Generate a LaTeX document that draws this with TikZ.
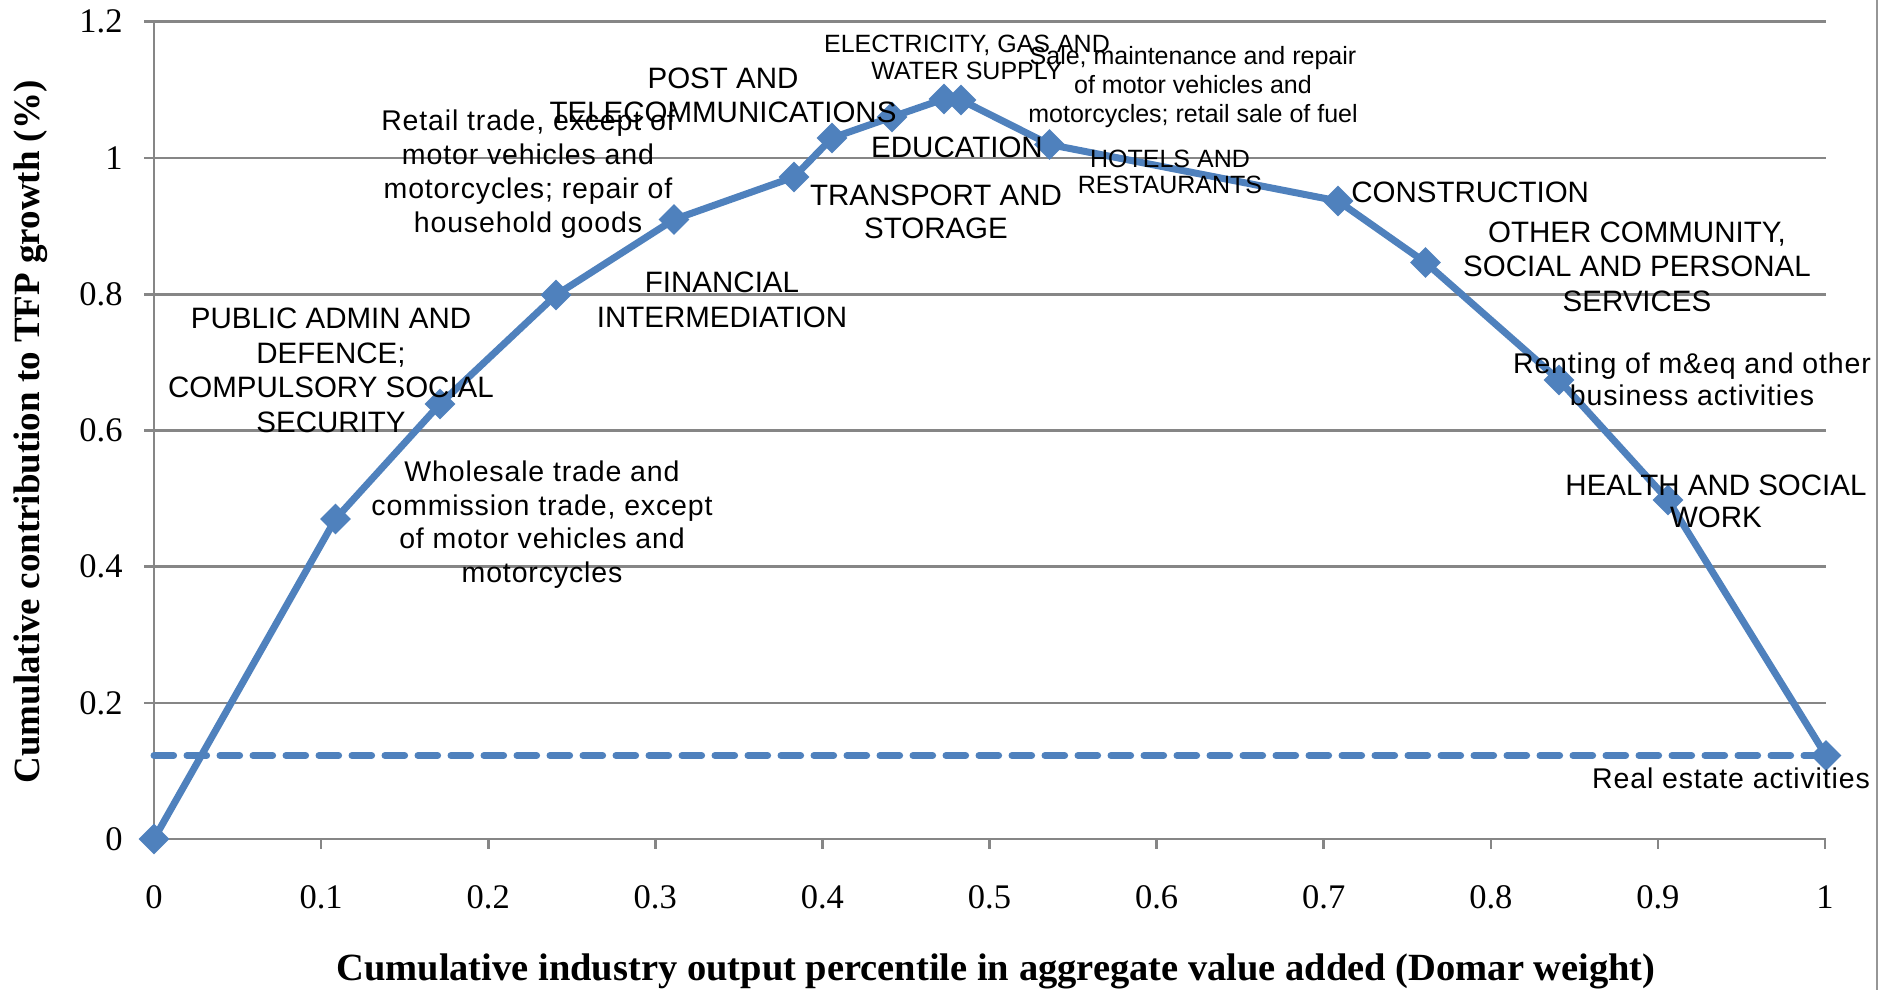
\documentclass[tikz,border=0pt]{standalone}
\usepackage{fontspec}
\setmainfont{Liberation Serif}
\newfontfamily\labfont{Liberation Sans}
\newfontfamily\labspfont[LetterSpace=3]{Liberation Sans}
\usetikzlibrary{shapes.geometric}
\definecolor{xblue}{RGB}{79,129,189}
\definecolor{gridgray}{RGB}{134,134,134}
\definecolor{bordergray}{RGB}{150,150,150}
\newcommand\fs[2]{\fontsize{#1}{#2}\selectfont}
\newcommand\ft{\rule{0pt}{12pt}}
\begin{document}
\begin{tikzpicture}[x=0.5pt,y=-0.5pt,
  gridl/.style={draw=gridgray,line width=1.3pt},
  series/.style={draw=xblue,line width=3.5pt,line join=round,line cap=round},
  refline/.style={draw=xblue,line width=3.5pt,line cap=round,dash pattern=on 9.8pt off 6.7pt},
  mk/.style={diamond,fill=xblue,inner sep=0pt,minimum width=15.5pt,minimum height=15.5pt},
  lab/.style={inner sep=0pt,align=center,anchor=north,text=black},
  tickl/.style={inner sep=0pt,font=\fs{17.25}{20}},
  ]
\fill[white] (0,0) rectangle (1892,990);
\useasboundingbox (0,0) rectangle (1892,990);
% grid
\foreach \k in {1,...,6}
  \draw[gridl] (144,{839-136.2*\k}) -- (1826,{839-136.2*\k});
\draw[gridl] (154,21.8) -- (154,839);
\draw[gridl] (144,839) -- (1826,839);
\foreach \k in {0,...,10}
  \draw[gridl] ({154+167.1*\k},839) -- ++(0,10);
\draw[draw=bordergray,line width=1.3pt] (1877,0) -- (1877,990);
% tick labels
\foreach \k/\t in {0/0,1/0.2,2/0.4,3/0.6,4/0.8,5/1,6/1.2}
  \node[tickl,anchor=east] (yl\k) at (123,{839-136.2*\k}) {\t};
\foreach \k/\t in {0/0,1/0.1,2/0.2,3/0.3,4/0.4,5/0.5,6/0.6,7/0.7,8/0.8,9/0.9,10/1}
  \node[tickl,anchor=base] (xl\k) at ({154+167.1*\k},908) {\t};
% axis titles
\node[font=\bfseries\fs{19.25}{22},inner sep=0pt,anchor=base] (xt) at (996,980)
  {Cumulative industry output percentile in aggregate value added (Domar weight)};
\node[font=\bfseries\fs{18.5}{22},inner sep=0pt,rotate=90] (yt) at (31,432)
  {Cumulative contribution to TFP growth (\%)};
% data
\coordinate (c1) at (154,839);
\coordinate (c2) at (335.5,519);
\coordinate (c3) at (440,404);
\coordinate (c4) at (556,295);
\coordinate (c5) at (674,219.5);
\coordinate (c6) at (794,177);
\coordinate (c7) at (832,138);
\coordinate (c8) at (892,117);
\coordinate (c9) at (944,99);
\coordinate (c10) at (961,100);
\coordinate (c11) at (1049.5,144.5);
\coordinate (c12) at (1338,201);
\coordinate (c13) at (1425.5,262.5);
\coordinate (c14) at (1559,380);
\coordinate (c15) at (1668,500);
\coordinate (c16) at (1826,755.5);
\coordinate (d0) at (154,755.5);
\draw[refline] (d0) -- (c16);
\draw[series] (c1) -- (c2) -- (c3) -- (c4) -- (c5) -- (c6) -- (c7) -- (c8) -- (c9)
  -- (c10) -- (c11) -- (c12) -- (c13) -- (c14) -- (c15) -- (c16);
\foreach \i in {1,...,16}
  \node[mk] (m\i) at (c\i) {};
% labels
\node[lab,font=\labfont\fs{14.75}{17.35}] (lpub) at (331,304)
  {\ft PUBLIC ADMIN AND\\DEFENCE;\\COMPULSORY SOCIAL\\SECURITY};
\node[lab,font=\labspfont\fs{14.25}{16.85}] (lwho) at (542,457)
  {\ft Wholesale trade and\\commission trade, except\\of motor vehicles and\\motorcycles};
\node[lab,font=\labspfont\fs{14.25}{17}] (lret) at (528,106)
  {\ft Retail trade, except of\\motor vehicles and\\motorcycles; repair of\\household goods};
\node[lab,font=\labfont\fs{14.75}{17.5}] (lfin) at (722,268)
  {\ft FINANCIAL\\INTERMEDIATION};
\node[lab,font=\labfont\fs{14.75}{17}] (lpost) at (723,64)
  {\ft POST AND\\TELECOMMUNICATIONS};
\node[lab,font=\labfont\fs{14.75}{16.5}] (ltra) at (936,181)
  {\ft TRANSPORT AND\\STORAGE};
\node[inner sep=0pt,anchor=base,font=\labfont\fs{14.75}{17}] (ledu) at (957,158) {EDUCATION};
\node[lab,font=\labfont\fs{12.5}{13.75}] (lele) at (967,28)
  {\ft ELECTRICITY, GAS AND\\WATER SUPPLY};
\node[lab,font=\labfont\fs{12.5}{14.5}] (lsal) at (1193,40)
  {\ft Sale, maintenance and repair\\of motor vehicles and\\motorcycles; retail sale of fuel};
\node[lab,font=\labfont\fs{12.5}{13}] (lhot) at (1170,143)
  {\ft HOTELS AND\\RESTAURANTS};
\node[anchor=base west,inner sep=0pt,font=\labfont\fs{14.75}{17}] (lcon) at (1351,203) {CONSTRUCTION};
\node[lab,font=\labfont\fs{14.75}{17.25}] (loth) at (1637,218)
  {\ft OTHER COMMUNITY,\\SOCIAL AND PERSONAL\\SERVICES};
\node[lab,font=\labspfont\fs{14.25}{16}] (lren) at (1692,349)
  {\ft Renting of m\&eq and other\\business activities};
\node[lab,font=\labfont\fs{14.75}{16}] (lhea) at (1716,471)
  {\ft HEALTH AND SOCIAL\\WORK};
\node[anchor=base,inner sep=0pt,font=\labspfont\fs{14.25}{16}] (lrea) at (1731,788) {Real estate activities};
\end{tikzpicture}
\end{document}
